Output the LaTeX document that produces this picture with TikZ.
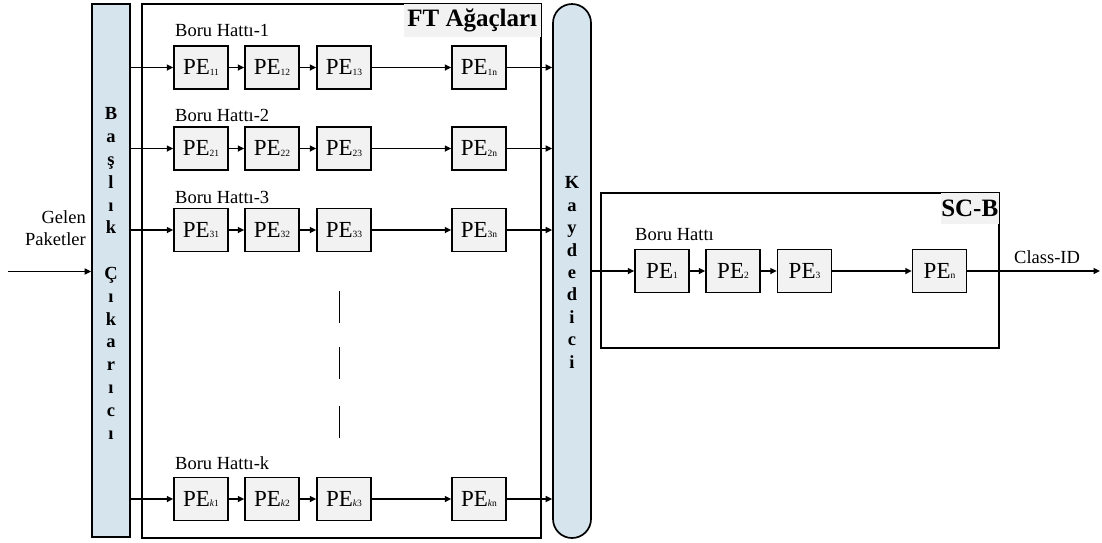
\documentclass[tikz,border=0pt]{standalone}
\usepackage{fontspec}
\setmainfont{Liberation Serif}
\usetikzlibrary{arrows.meta}
\definecolor{barblue}{HTML}{D6E4EE}
\definecolor{pegray}{HTML}{F2F2F2}
\newcommand{\pesub}[1]{PE\raisebox{-0.3pt}{\fontsize{9.5}{9.5}\selectfont #1}}
\begin{document}
\begin{tikzpicture}[x=1pt,y=-1pt,
  pebox/.style={draw,line width=1.5pt,fill=pegray,minimum width=54pt,minimum height=43pt,inner sep=0pt,font=\fontsize{23}{23}\selectfont},
  bigbox/.style={draw,line width=1.7pt,inner sep=0pt},
  conn/.style={line width=1.6pt,-{Triangle[length=6.5pt,width=6pt]}},
  lbl/.style={font=\fontsize{18.5}{19}\selectfont,inner sep=0pt,anchor=base west},
  boldlbl/.style={fill=pegray,inner sep=0pt,anchor=north east,font=\bfseries\fontsize{25}{25}\selectfont},
  vlet/.style={font=\bfseries\fontsize{18.5}{22.8}\selectfont,align=center,inner sep=0pt}
]
\useasboundingbox (0,0) rectangle (1102,542);

% big boxes
\node[bigbox,minimum width=399pt,minimum height=534pt] (ft) at (341.5,271) {};
\node[bigbox,fill=barblue,minimum width=38pt,minimum height=533pt] (hdr) at (111,270.5) {};
\node[bigbox,fill=barblue,rounded corners=19pt,minimum width=38pt,minimum height=534pt] (kay) at (572,271) {};
\node[bigbox,minimum width=398pt,minimum height=155pt] (scb) at (800,270.5) {};

\node[boldlbl,minimum width=137pt,minimum height=33pt] (ftl) at ([xshift=-0.9pt,yshift=-0.9pt]ft.north east) {FT Ağaçları};
\node[boldlbl,minimum width=58pt,minimum height=31pt] (scl) at ([xshift=-0.9pt,yshift=-0.9pt]scb.north east) {SC-B};

% vertical letters
\node[vlet] (hdrtext) at (111,273.5) {B\\a\\ş\\l\\ı\\k\\[22.8pt]Ç\\ı\\k\\a\\r\\ı\\c\\ı};
\node[vlet,font=\bfseries\fontsize{18.5}{22.4}\selectfont] (kaytext) at (572,272.5) {K\\a\\y\\d\\e\\d\\i\\c\\i};

% pipeline rows
\foreach \r/\y/\s/\b in {1/67.5/1/36, 2/148.5/2/121, 3/230/3/203.5, k/499/\textit{k}/469}{
  \node[pebox] (p\r-a) at (201,\y) {\pesub{\s1}};
  \node[pebox] (p\r-b) at (272,\y) {\pesub{\s2}};
  \node[pebox] (p\r-c) at (344,\y) {\pesub{\s3}};
  \node[pebox] (p\r-n) at (479,\y) {\pesub{\s n}};
  \node[lbl] (l\r) at (175,\b) {Boru Hattı-\r};
  \draw[conn] (hdr.east |- p\r-a.west) -- (p\r-a.west);
  \draw[conn] (p\r-a) -- (p\r-b);
  \draw[conn] (p\r-b) -- (p\r-c);
  \draw[conn] (p\r-c) -- (p\r-n);
  \draw[conn] (p\r-n.east) -- (kay.west |- p\r-n.east);
}

% dashed continuation
\draw[line width=1.6pt] (339.5,291) -- (339.5,323);
\draw[line width=1.6pt] (339.5,347) -- (339.5,379);
\draw[line width=1.6pt] (339.5,406) -- (339.5,438);

% SC-B pipeline
\node[pebox] (s1) at (662,271) {\pesub{1}};
\node[pebox] (s2) at (733,271) {\pesub{2}};
\node[pebox] (s3) at (804.5,271) {\pesub{3}};
\node[pebox] (sn) at (939.5,271) {\pesub{n}};
\node[lbl] (sl) at (635,240.5) {Boru Hattı};
\draw[conn] (kay.east |- s1.west) -- (s1.west);
\draw[conn] (s1) -- (s2);
\draw[conn] (s2) -- (s3);
\draw[conn] (s3) -- (sn);
\coordinate (out) at (1100,271);
\draw[conn] (sn.east) -- (out);
\node[lbl] (cid) at (1014,263) {Class-ID};

% input
\node[font=\fontsize{18.5}{22}\selectfont,align=right,inner sep=0pt,anchor=base east] (gel) at (86,245) {Gelen\\Paketler};
\coordinate (in) at (8,271.5);
\draw[conn] (in) -- (hdr.west |- in);
\end{tikzpicture}
\end{document}
